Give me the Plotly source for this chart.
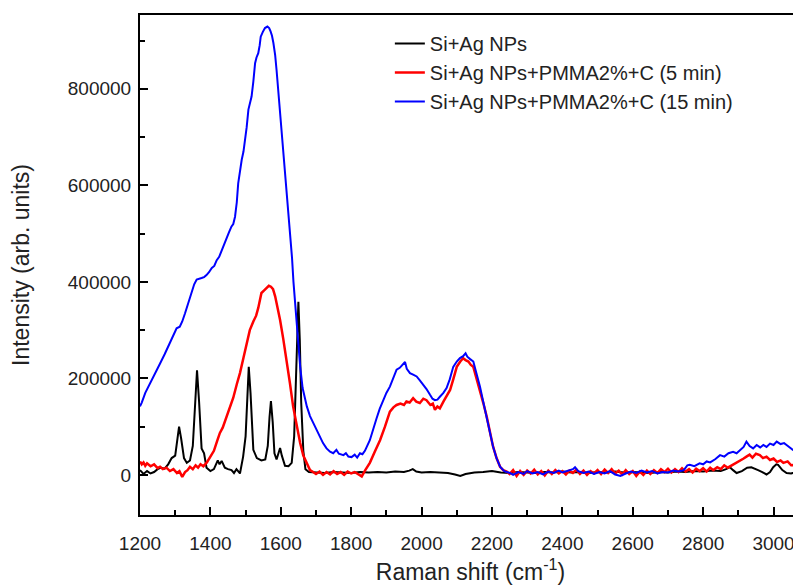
import plotly.graph_objects as go

# Raman spectra (shift in cm^-1, intensity in arb. units)
si_ag_x = [1200, 1210, 1220, 1230, 1240, 1250, 1260, 1270, 1280, 1290, 1300, 1305, 1311, 1317,
           1325, 1333, 1342, 1350, 1356, 1362, 1368, 1375, 1382, 1389, 1400, 1410, 1421, 1426,
           1432, 1441, 1450, 1460, 1467, 1474, 1484, 1493, 1500, 1505, 1509, 1514, 1522, 1532,
           1545, 1556, 1563, 1568, 1572, 1577, 1582, 1588, 1594, 1598, 1603, 1612, 1622, 1631,
           1638, 1643, 1647, 1650, 1654, 1658, 1664, 1670, 1680, 1700, 1725, 1750, 1775, 1800,
           1825, 1850, 1875, 1900, 1925, 1950, 1965, 1975, 1985, 2000, 2025, 2050, 2075, 2095,
           2110, 2125, 2150, 2175, 2200, 2225, 2250, 2275, 2300, 2325, 2350, 2375, 2400, 2425,
           2450, 2475, 2500, 2525, 2550, 2575, 2600, 2625, 2650, 2675, 2700, 2725, 2750, 2775,
           2800, 2825, 2850, 2865, 2876, 2885, 2895, 2910, 2925, 2937, 2947, 2956, 2968, 2980,
           2990, 2999, 3008, 3013, 3025, 3037, 3050, 3060, 3070, 3080]
si_ag_y = [10000, 2000, 8000, 3000, 6000, 12000, 15000, 13000, 22000, 35000, 40000, 70000, 100000,
           75000, 35000, 25000, 30000, 60000, 140000, 217000, 150000, 55000, 45000, 15000, 8000,
           12000, 30000, 22000, 29000, 15000, 12000, 10000, 4000, 12000, 3000, 38000, 80000,
           160000, 224000, 170000, 52000, 35000, 30000, 32000, 60000, 120000, 153000, 110000,
           45000, 32000, 45000, 56000, 40000, 19000, 18000, 25000, 80000, 200000, 320000, 359000,
           280000, 150000, 50000, 12000, 6000, 5000, 4000, 6000, 5000, 4000, 6000, 5000, 6000,
           5000, 7000, 6000, 9000, 12000, 7000, 5000, 6000, 5000, 4000, 1000, -2000, 2000, 5000,
           6000, 8000, 5000, 4000, 6000, 5000, 4000, 6000, 5000, 7000, 5000, 6000, 4000, 6000,
           5000, 7000, 5000, 6000, 5000, 4000, 6000, 5000, 7000, 6000, 8000, 7000, 9000, 8000,
           12000, 16000, 10000, 4000, 8000, 15000, 16000, 12000, 10000, 6000, 1000, 6000, 16000,
           22000, 21000, 10000, 4000, 3000, 5000, 8000, 10000]

pmma5_x = [1200, 1205, 1210, 1215, 1220, 1230, 1240, 1250, 1257, 1265, 1275, 1285, 1295, 1305,
           1312, 1320, 1328, 1335, 1342, 1350, 1358, 1365, 1372, 1380, 1390, 1399, 1410, 1420,
           1427, 1435, 1445, 1456, 1465, 1475, 1484, 1494, 1503, 1512, 1522, 1530, 1536, 1545,
           1552, 1560, 1566, 1572, 1578, 1584, 1590, 1598, 1607, 1617, 1626, 1635, 1645, 1655,
           1664, 1674, 1683, 1692, 1700, 1710, 1720, 1730, 1740, 1750, 1760, 1770, 1780, 1790,
           1800, 1810, 1820, 1830, 1840, 1853, 1867, 1882, 1896, 1910, 1920, 1929, 1940, 1950,
           1957, 1966, 1976, 1985, 1995, 2005, 2014, 2025, 2032, 2038, 2045, 2052, 2062, 2072,
           2081, 2090, 2100, 2110, 2118, 2125, 2133, 2140, 2147, 2156, 2166, 2175, 2185, 2194,
           2203, 2213, 2223, 2232, 2242, 2250, 2260, 2270, 2280, 2290, 2300, 2310, 2320, 2330,
           2340, 2350, 2360, 2370, 2380, 2390, 2400, 2410, 2420, 2430, 2440, 2450, 2460, 2470,
           2480, 2490, 2500, 2510, 2520, 2530, 2540, 2550, 2560, 2570, 2580, 2590, 2600, 2610,
           2620, 2630, 2640, 2650, 2660, 2670, 2680, 2690, 2700, 2710, 2720, 2730, 2740, 2750,
           2760, 2770, 2780, 2790, 2800, 2810, 2820, 2829, 2840, 2850, 2860, 2870, 2885, 2895,
           2905, 2915, 2923, 2932, 2940, 2950, 2961, 2970, 2980, 2990, 3000, 3010, 3020, 3028,
           3040, 3050, 3065, 3075, 3080]
pmma5_y = [28000, 22000, 26000, 19000, 24000, 18000, 22000, 14000, 17000, 12000, 15000, 8000,
           12000, 4000, 8000, -4000, 6000, 10000, 17000, 12000, 20000, 15000, 22000, 18000, 26000,
           38000, 50000, 72000, 87000, 98000, 118000, 142000, 160000, 188000, 211000, 243000,
           273000, 300000, 318000, 330000, 346000, 377000, 382000, 387000, 392000, 390000, 385000,
           370000, 350000, 321000, 282000, 238000, 190000, 142000, 100000, 66000, 40000, 25000,
           10000, 6000, 2000, 7000, 0, 6000, 1000, 8000, 2000, 6000, 0, 7000, 3000, 6000, 1000,
           -3000, 10000, 25000, 48000, 72000, 100000, 131000, 140000, 145000, 148000, 145000,
           152000, 150000, 159000, 152000, 149000, 158000, 155000, 145000, 148000, 135000, 142000,
           138000, 152000, 165000, 176000, 198000, 224000, 235000, 242000, 238000, 235000, 228000,
           224000, 200000, 176000, 150000, 121000, 90000, 59000, 35000, 17000, 10000, 7000, 2000,
           10000, -2000, 8000, 0, 9000, 3000, 11000, 1000, 8000, -1000, 9000, 2000, 10000, 3000,
           8000, 1000, 9000, 4000, 11000, 2000, 9000, 0, 8000, 3000, 10000, 2000, 11000, 4000,
           12000, 3000, 9000, 1000, 10000, 2000, 8000, -2000, 7000, 0, 9000, 2000, 10000, 4000,
           12000, 6000, 13000, 5000, 12000, 6000, 14000, 7000, 12000, 5000, 13000, 8000, 14000,
           7000, 15000, 10000, 16000, 12000, 20000, 15000, 21000, 26000, 30000, 34000, 38000,
           42000, 36000, 44000, 41000, 35000, 38000, 31000, 34000, 27000, 30000, 25000, 28000,
           20000, 21000, 18000, 20000]

pmma15_x = [1200, 1205, 1215, 1228, 1240, 1257, 1270, 1285, 1295, 1304, 1313, 1320, 1328, 1338,
            1347, 1354, 1361, 1368, 1375, 1382, 1389, 1396, 1404, 1411, 1418, 1425, 1432, 1439,
            1446, 1453, 1460, 1465, 1470, 1475, 1479, 1484, 1489, 1494, 1498, 1503, 1508, 1513,
            1517, 1522, 1527, 1531, 1536, 1540, 1543, 1549, 1555, 1562, 1567, 1571, 1575, 1579,
            1584, 1588, 1593, 1598, 1603, 1607, 1612, 1617, 1622, 1626, 1632, 1636, 1640, 1647,
            1655, 1662, 1669, 1674, 1683, 1692, 1700, 1711, 1720, 1730, 1740, 1749, 1758, 1765,
            1778, 1785, 1792, 1801, 1810, 1817, 1825, 1832, 1839, 1853, 1862, 1872, 1881, 1891,
            1900, 1910, 1920, 1929, 1938, 1948, 1953, 1958, 1967, 1976, 1986, 1995, 2005, 2014,
            2024, 2031, 2038, 2045, 2052, 2062, 2071, 2080, 2090, 2100, 2109, 2118, 2125, 2130,
            2138, 2147, 2156, 2166, 2175, 2185, 2194, 2203, 2213, 2223, 2235, 2251, 2260, 2275,
            2290, 2300, 2315, 2330, 2345, 2360, 2375, 2390, 2400, 2415, 2430, 2436, 2445, 2460,
            2475, 2490, 2505, 2520, 2535, 2550, 2565, 2580, 2595, 2610, 2625, 2640, 2655, 2670,
            2685, 2700, 2715, 2730, 2745, 2755, 2762, 2775, 2790, 2800, 2810, 2820, 2835, 2848,
            2860, 2872, 2885, 2895, 2905, 2915, 2923, 2932, 2942, 2952, 2962, 2971, 2980, 2990,
            3000, 3009, 3020, 3030, 3037, 3045, 3055, 3065, 3075, 3080]
pmma15_y = [142000, 150000, 170000, 190000, 208000, 231000, 250000, 273000, 290000, 304000,
            307000, 318000, 335000, 360000, 383000, 395000, 405000, 406000, 408000, 410000,
            414000, 420000, 429000, 433000, 445000, 452000, 465000, 478000, 494000, 503000,
            515000, 520000, 535000, 565000, 604000, 630000, 653000, 670000, 691000, 720000,
            757000, 770000, 784000, 815000, 853000, 865000, 874000, 890000, 908000, 918000,
            926000, 929000, 926000, 919000, 910000, 895000, 870000, 839000, 795000, 750000,
            710000, 667000, 625000, 584000, 543000, 501000, 449000, 400000, 363000, 290000,
            225000, 180000, 155000, 142000, 122000, 108000, 95000, 79000, 66000, 55000, 48000,
            45000, 52000, 44000, 41000, 45000, 38000, 37000, 42000, 36000, 45000, 43000, 50000,
            72000, 95000, 117000, 137000, 155000, 170000, 183000, 200000, 218000, 222000, 231000,
            234000, 220000, 211000, 208000, 204000, 196000, 187000, 178000, 166000, 158000,
            155000, 156000, 162000, 170000, 180000, 198000, 224000, 235000, 242000, 246000,
            252000, 245000, 240000, 235000, 210000, 183000, 152000, 121000, 88000, 59000, 35000,
            17000, 8000, 4000, 0, 6000, 2000, 8000, 3000, 6000, 1000, 7000, 4000, 9000, 5000,
            8000, 12000, 16000, 8000, 4000, 7000, 2000, 6000, 3000, 8000, 1000, -2000, 3000, 7000,
            4000, 9000, 5000, 8000, 3000, 6000, 5000, 9000, 7000, 10000, 20000, 21000, 18000,
            24000, 22000, 28000, 26000, 33000, 41000, 38000, 45000, 48000, 45000, 52000, 58000,
            69000, 60000, 55000, 62000, 57000, 62000, 58000, 65000, 62000, 69000, 64000, 66000,
            62000, 57000, 52000, 48000, 50000, 48000]

series = [
    ("Si+Ag NPs", si_ag_x, si_ag_y, "black", 2),
    ("Si+Ag NPs+PMMA2%+C (5 min)", pmma5_x, pmma5_y, "red", 2.5),
    ("Si+Ag NPs+PMMA2%+C (15 min)", pmma15_x, pmma15_y, "blue", 2),
]

FONT = "Liberation Sans, Arial, sans-serif"

fig = go.Figure()
for name, xs, ys, color, width in series:
    fig.add_trace(
        go.Scatter(
            x=xs,
            y=ys,
            mode="lines",
            name=name,
            line={"color": color, "width": width},
        )
    )

axis_common = dict(
    showline=True,
    linecolor="black",
    linewidth=2,
    ticks="inside",
    ticklen=8,
    tickwidth=2,
    tickcolor="black",
    showgrid=False,
    zeroline=False,
    automargin=False,
    tickfont={"family": FONT, "size": 19, "color": "#222"},
)

fig.update_xaxes(
    **axis_common,
    range=[1200, 3078],
    dtick=200,
    tick0=1200,
    mirror=True,
    ticklabelstandoff=10,
    minor={"ticks": "inside", "ticklen": 5, "tickwidth": 2, "dtick": 100, "tickcolor": "black"},
    title={"text": "Raman shift (cm<sup>-1</sup>)", "font": {"family": FONT, "size": 23, "color": "#222"},
           "standoff": 16},
)
fig.update_yaxes(
    **axis_common,
    range=[-83000, 953000],
    dtick=200000,
    tick0=0,
    tickformat="d",
    ticklabelstandoff=3,
    minor={"ticks": "inside", "ticklen": 5, "tickwidth": 2, "dtick": 100000, "tickcolor": "black"},
    title={"text": "Intensity (arb. units)", "font": {"family": FONT, "size": 23, "color": "#222"},
           "standoff": 39},
)

# the page body adds an 8 px offset, so the figure is sized to the visible window
fig.update_layout(
    width=793,
    height=577,
    margin={"l": 132, "r": 0, "t": 7, "b": 70},
    plot_bgcolor="white",
    paper_bgcolor="white",
    legend={
        "x": 0.378,
        "y": 0.982,
        "xanchor": "left",
        "yanchor": "top",
        "bgcolor": "rgba(0,0,0,0)",
        "font": {"family": FONT, "size": 20, "color": "#222"},
        "tracegroupgap": 0,
    },
)

fig.write_html("out.html")
